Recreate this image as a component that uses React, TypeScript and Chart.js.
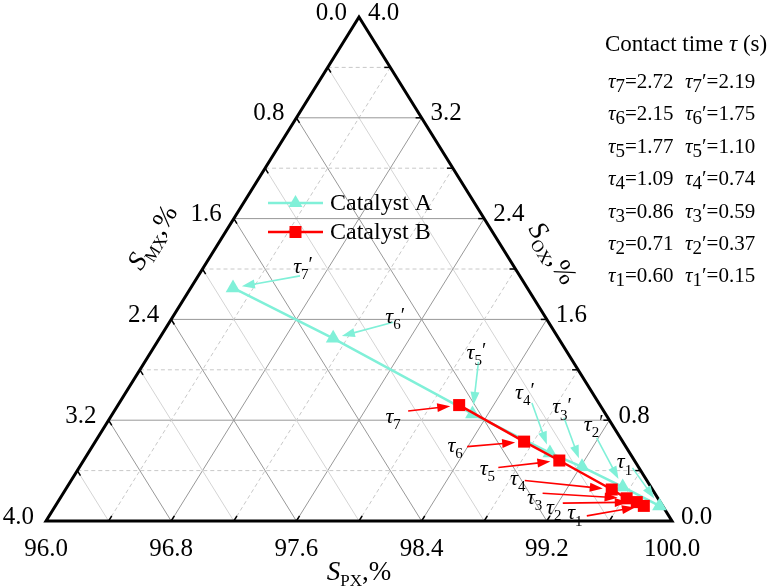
import React, { useEffect, useRef } from "react";
import { Chart, registerables } from "chart.js";

Chart.register(...registerables);

// ---------- data ----------
const axisTickValues = [0, 0.8, 1.6, 2.4, 3.2, 4.0];
const pxTickLabels = ["96.0", "96.8", "97.6", "98.4", "99.2", "100.0"];
const mxTickLabels = ["0.0", "0.8", "1.6", "2.4", "3.2", "4.0"];
const oxTickLabels = ["0.0", "0.8", "1.6", "2.4", "3.2", "4.0"];

const pointIds = ["1", "2", "3", "4", "5", "6", "7"];
// Catalyst A (τ1'..τ7')
const catalystA_OX = [0.12, 0.27, 0.43, 0.54, 0.85, 1.45, 1.85];
const catalystA_MX = [0.02, 0.18, 0.36, 0.51, 0.85, 1.44, 1.88];
// Catalyst B (τ1..τ7)
const catalystB_OX = [0.12, 0.15, 0.18, 0.25, 0.48, 0.63, 0.92];
const catalystB_MX = [0.12, 0.15, 0.2, 0.26, 0.48, 0.63, 0.9];

const contactTimeB = ["0.60", "0.71", "0.86", "1.09", "1.77", "2.15", "2.72"];
const contactTimeA = ["0.15", "0.37", "0.59", "0.74", "1.10", "1.75", "2.19"];

// ---------- layout (annotation offsets in px relative to each point) ----------
const labelOffB = [[-69, 7], [-83, 5], [-92, -1], [-94, -11], [-72, 8], [-69, 4], [-66, 11]];
const tailOffB = [[-57, 10], [-74, 1], [-84, -5], [-87, -9], [-61, 7], [-57, 5], [-51, 6]];
const labelOffA = [[-35, -44], [-29, -63], [-20, -60], [-25, -61], [4, -62], [62, -22], [70, -22]];
const tailOffA = [[-27, -38], [-26, -49], [-18, -49], [-18, -50], [6, -52], [60, -16], [67, -12]];
const primeShownA = [false, true, true, true, true, true, true];

const SERIF = '"Liberation Serif", "Times New Roman", serif';
const CYAN = "#80F0D8";
const RED = "#FF0000";

function tern(o: number, m: number) {
  const p = 4 - o - m;
  return { x: p + o / 2, y: o };
}

function drawArrow(ctx: CanvasRenderingContext2D, x1: number, y1: number, x2: number, y2: number, color: string, lw: number) {
  const ang = Math.atan2(y2 - y1, x2 - x1);
  const hl = 13, hw = 4.5;
  ctx.save();
  ctx.strokeStyle = color;
  ctx.fillStyle = color;
  ctx.lineWidth = lw;
  ctx.beginPath();
  ctx.moveTo(x1, y1);
  ctx.lineTo(x2 - Math.cos(ang) * hl * 0.7, y2 - Math.sin(ang) * hl * 0.7);
  ctx.stroke();
  ctx.beginPath();
  ctx.moveTo(x2, y2);
  ctx.lineTo(x2 - Math.cos(ang) * hl - Math.sin(ang) * hw, y2 - Math.sin(ang) * hl + Math.cos(ang) * hw);
  ctx.lineTo(x2 - Math.cos(ang) * hl + Math.sin(ang) * hw, y2 - Math.sin(ang) * hl - Math.cos(ang) * hw);
  ctx.closePath();
  ctx.fill();
  ctx.restore();
}

function drawTau(ctx: CanvasRenderingContext2D, cx: number, cy: number, sub: string, prime: boolean, size: number) {
  const fMain = `italic ${size}px ${SERIF}`;
  const fSub = `${Math.round(size * 0.7)}px ${SERIF}`;
  const fPrime = `${Math.round(size * 0.9)}px ${SERIF}`;
  ctx.font = fMain;
  const wt = ctx.measureText("τ").width;
  ctx.font = fSub;
  const ws = ctx.measureText(sub).width;
  ctx.font = fPrime;
  const wp = prime ? ctx.measureText("′").width : 0;
  const x0 = cx - (wt + ws + wp) / 2;
  const base = cy + size * 0.3;
  ctx.fillStyle = "#000";
  ctx.textAlign = "left";
  ctx.textBaseline = "alphabetic";
  ctx.font = fMain;
  ctx.fillText("τ", x0, base);
  ctx.font = fSub;
  ctx.fillText(sub, x0 + wt, base + size * 0.28);
  if (prime) {
    ctx.font = fPrime;
    ctx.fillText("′", x0 + wt + ws, base - size * 0.05);
  }
}

function drawAxisTitle(ctx: CanvasRenderingContext2D, cx: number, cy: number, angle: number, sub: string) {
  const size = 27;
  const fS = `italic ${size}px ${SERIF}`;
  const fSub = `17px ${SERIF}`;
  const fR = `${size}px ${SERIF}`;
  ctx.save();
  ctx.translate(cx, cy);
  ctx.rotate(angle);
  ctx.font = fS;
  const w1 = ctx.measureText("S").width;
  ctx.font = fSub;
  const w2 = ctx.measureText(sub).width;
  ctx.font = fR;
  const w3 = ctx.measureText(",%").width;
  let x = -(w1 + w2 + w3) / 2;
  const base = size * 0.33;
  ctx.fillStyle = "#000";
  ctx.textAlign = "left";
  ctx.textBaseline = "alphabetic";
  ctx.font = fS;
  ctx.fillText("S", x, base);
  x += w1;
  ctx.font = fSub;
  ctx.fillText(sub, x, base + 6);
  x += w2;
  ctx.font = fR;
  ctx.fillText(",%", x, base);
  ctx.restore();
}

const ternaryPlugin = {
  id: "ternary",
  beforeDatasetsDraw(chart: any) {
    const ctx: CanvasRenderingContext2D = chart.ctx;
    const xs = chart.scales.x, ys = chart.scales.y;
    const P = (o: number, m: number) => {
      const t = tern(o, m);
      return [xs.getPixelForValue(t.x), ys.getPixelForValue(t.y)];
    };
    const seg = (a: number[], b: number[], color: string, lw: number, dash: number[]) => {
      ctx.beginPath();
      ctx.strokeStyle = color;
      ctx.lineWidth = lw;
      ctx.setLineDash(dash);
      ctx.moveTo(a[0], a[1]);
      ctx.lineTo(b[0], b[1]);
      ctx.stroke();
    };
    ctx.save();
    const majorC = "#989898";
    for (let i = 1; i < 10; i++) {
      const v = i * 0.4;
      const major = i % 2 === 0;
      if (major) seg(P(v, 4 - v), P(v, 0), majorC, 1, []);
      else seg(P(v, 4 - v), P(v, 0), "#c8c8c8", 1, [4, 3]);
      if (major) seg(P(4 - v, v), P(0, v), majorC, 1, []);
      else seg(P(4 - v, v), P(0, v), "#d4d4d4", 1, []);
      if (major) seg(P(4 - v, 0), P(0, 4 - v), majorC, 1, []);
      else seg(P(4 - v, 0), P(0, 4 - v), "#c8c8c8", 1, [4, 3]);
    }
    ctx.setLineDash([]);
    const tick = (a: number[], b: number[]) => {
      const dx = b[0] - a[0], dy = b[1] - a[1];
      const L = Math.hypot(dx, dy);
      if (L < 1) return;
      seg(a, [a[0] + (dx / L) * 6, a[1] + (dy / L) * 6], "#000", 1.5, []);
    };
    for (let i = 0; i <= 10; i++) {
      const v = i * 0.4;
      tick(P(4 - v, v), P(0, v));
      tick(P(v, 0), P(v, 4 - v));
      tick(P(0, 4 - v), P(4 - v, 0));
    }
    const T = P(4, 0), BL = P(0, 4), BR = P(0, 0);
    ctx.beginPath();
    ctx.strokeStyle = "#000";
    ctx.lineWidth = 3;
    ctx.lineJoin = "miter";
    ctx.moveTo(T[0], T[1]);
    ctx.lineTo(BL[0], BL[1]);
    ctx.lineTo(BR[0], BR[1]);
    ctx.closePath();
    ctx.stroke();
    ctx.fillStyle = "#000";
    ctx.font = `25px ${SERIF}`;
    ctx.textBaseline = "middle";
    axisTickValues.forEach((v, i) => {
      const l = P(4 - v, v);
      ctx.textAlign = "right";
      ctx.fillText(mxTickLabels[i], l[0] - 12, l[1] - 4);
      const r = P(v, 0);
      ctx.textAlign = "left";
      ctx.fillText(oxTickLabels[i], r[0] + 9, r[1] - 4);
      const b = P(0, 4 - v);
      ctx.textAlign = "center";
      ctx.fillText(pxTickLabels[i], b[0], b[1] + 28);
    });
    const ang = Math.atan2(BL[1] - T[1], T[0] - BL[0]);
    drawAxisTitle(ctx, T[0], BR[1] + 50, 0, "PX");
    drawAxisTitle(ctx, 152, 237, -ang, "MX");
    drawAxisTitle(ctx, 553, 253, ang, "OX");
    ctx.restore();
  },
  afterDatasetsDraw(chart: any) {
    const ctx: CanvasRenderingContext2D = chart.ctx;
    ctx.save();
    const metaA = chart.getDatasetMeta(1);
    const metaB = chart.getDatasetMeta(0);
    const ann = (meta: any, lOff: number[][], tOff: number[][], color: string, prime: boolean) => {
      meta.data.forEach((el: any, i: number) => {
        const px = el.x, py = el.y;
        const tx = px + tOff[i][0], ty = py + tOff[i][1];
        const dx = tx - px, dy = ty - py;
        const L = Math.hypot(dx, dy);
        const tip = [px + (dx / L) * 9, py + (dy / L) * 9];
        drawArrow(ctx, tx, ty, tip[0], tip[1], color, 1.6);
        drawTau(ctx, px + lOff[i][0], py + lOff[i][1], pointIds[i], prime && primeShownA[i], 22);
      });
    };
    ann(metaB, labelOffB, tailOffB, RED, false);
    ann(metaA, labelOffA, tailOffA, CYAN, true);

    const legend = [
      { label: "Catalyst A", color: CYAN, style: "triangle", y: 203 },
      { label: "Catalyst B", color: RED, style: "rect", y: 232 },
    ];
    legend.forEach((it) => {
      ctx.strokeStyle = it.color;
      ctx.lineWidth = 2.5;
      ctx.beginPath();
      ctx.moveTo(268, it.y);
      ctx.lineTo(323, it.y);
      ctx.stroke();
      ctx.fillStyle = it.color;
      ctx.beginPath();
      if (it.style === "triangle") {
        ctx.moveTo(295.5, it.y - 8);
        ctx.lineTo(302.5, it.y + 4);
        ctx.lineTo(288.5, it.y + 4);
      } else {
        ctx.rect(289.5, it.y - 6, 12, 12);
      }
      ctx.closePath();
      ctx.fill();
      ctx.fillStyle = "#000";
      ctx.font = `24px ${SERIF}`;
      ctx.textAlign = "left";
      ctx.textBaseline = "middle";
      ctx.fillText(it.label, 330, it.y + 1);
    });

    const size = 21;
    ctx.textBaseline = "alphabetic";
    ctx.textAlign = "left";
    let x = 605;
    const ty = 51;
    ctx.font = `${size + 2}px ${SERIF}`;
    ctx.fillText("Contact time ", x, ty);
    x += ctx.measureText("Contact time ").width;
    ctx.font = `italic ${size + 2}px ${SERIF}`;
    ctx.fillText("τ", x, ty);
    x += ctx.measureText("τ").width;
    ctx.font = `${size + 2}px ${SERIF}`;
    ctx.fillText(" (s)", x, ty);

    const row = (x0: number, y: number, id: string, prime: boolean, val: string) => {
      let xx = x0;
      ctx.font = `italic ${size}px ${SERIF}`;
      ctx.fillText("τ", xx, y);
      xx += ctx.measureText("τ").width;
      ctx.font = `${size - 2}px ${SERIF}`;
      ctx.fillText(id, xx, y + 4);
      xx += ctx.measureText(id).width;
      ctx.font = `${size}px ${SERIF}`;
      if (prime) {
        ctx.fillText("′", xx, y);
        xx += ctx.measureText("′").width;
      }
      ctx.fillText("=" + val, xx, y);
    };
    for (let k = 0; k < 7; k++) {
      const i = 6 - k;
      const y = 88 + k * 32.4;
      row(608, y, pointIds[i], false, contactTimeB[i]);
      row(685, y, pointIds[i], true, contactTimeA[i]);
    }
    ctx.restore();
  },
};

export default function App() {
  const ref = useRef<HTMLCanvasElement | null>(null);
  useEffect(() => {
    if (!ref.current) return;
    const dataA = catalystA_OX.map((o, i) => tern(o, catalystA_MX[i]));
    const dataB = catalystB_OX.map((o, i) => tern(o, catalystB_MX[i]));
    const chart = new Chart(ref.current, {
      type: "scatter",
      data: {
        datasets: [
          {
            label: "Catalyst B",
            data: dataB,
            showLine: true,
            borderColor: RED,
            backgroundColor: RED,
            borderWidth: 2.5,
            pointStyle: "rect",
            pointRadius: 8.5,
            pointBorderWidth: 0,
            clip: false,
          } as any,
          {
            label: "Catalyst A",
            data: dataA,
            showLine: true,
            borderColor: CYAN,
            backgroundColor: CYAN,
            borderWidth: 2.5,
            pointStyle: "triangle",
            pointRadius: 8.5,
            pointBorderWidth: 0,
            clip: false,
          } as any,
        ],
      },
      options: {
        responsive: false,
        animation: false,
        devicePixelRatio: 1,
        layout: { padding: { left: 46, right: 104, top: 17, bottom: 66 } },
        scales: {
          x: { type: "linear", min: 0, max: 4, display: false },
          y: { type: "linear", min: 0, max: 4, display: false },
        },
        plugins: { legend: { display: false }, tooltip: { enabled: false } },
      },
      plugins: [ternaryPlugin],
    });
    return () => chart.destroy();
  }, []);
  return (
    <div style={{ position: "fixed", left: 0, top: 0, width: 776, height: 587, background: "#fff" }}>
      <canvas ref={ref} width={776} height={587} />
    </div>
  );
}
